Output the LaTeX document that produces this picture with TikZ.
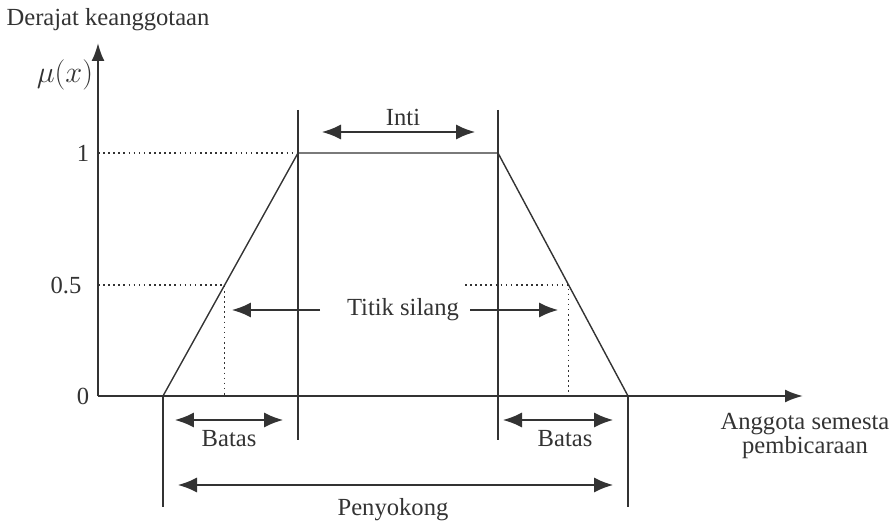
\documentclass[tikz,border=0pt]{standalone}
\usepackage{fontspec}
\setmainfont{Liberation Serif}
\usetikzlibrary{arrows.meta}

\begin{document}
\begin{tikzpicture}[font=\fontsize{14}{12}\selectfont, line width=0.8pt, black!80,
		both/.style={{Latex[length=3.8mm,width=3mm]}-{Latex[length=3.8mm,width=3mm]}},
		one/.style={-{Latex[length=3.8mm,width=3mm]}},
		guide/.style={dotted, line width=0.9pt}]
		\useasboundingbox (-1.96,-2.58) rectangle (15.84,7.92);
		% axes
		\coordinate (o) at (0,0);
		\coordinate (xend) at (14.1,0);
		\coordinate (yend) at (0,7.06);
		\draw[line width=1.2pt,-{Latex[length=3.6mm,width=2.6mm]}] (o) -- (xend);
		\draw[line width=1.2pt,-{Latex[length=3.6mm,width=2.6mm]}] (o) -- (yend);
		% trapezoid
		\coordinate (a) at (1.3,0);
		\coordinate (b) at (4,4.86);
		\coordinate (c) at (8,4.86);
		\coordinate (d) at (10.6,0);
		\coordinate (p) at (2.53,2.22);
		\coordinate (q) at (9.41,2.22);
		\draw (a) -- (b) -- (c) -- (d);
		\draw[guide] (0,4.86) -- (b);
		\draw[guide] (0,2.22) -- (p) -- (2.53,0);
		\draw[guide] (7.34,2.22) -- (q) -- (9.41,0);
		\draw (4,5.72) -- (4,-0.88);
		\draw (8,5.72) -- (8,-0.88);
		\draw (a) -- (1.3,-2.22);
		\draw (d) -- (10.6,-2.22);
		% arrows
		\draw[both] (4.48,5.28) -- (7.54,5.28);
		\draw[one] (4.44,1.72) -- (2.68,1.72);
		\draw[one] (7.44,1.72) -- (9.2,1.72);
		\draw[both] (1.54,-0.48) -- (3.7,-0.48);
		\draw[both] (8.1,-0.48) -- (10.3,-0.48);
		\draw[both] (1.6,-1.78) -- (10.3,-1.78);
		% labels
		\node (inti) at (6.1,5.58) {Inti};
		\node (silang) at (6.1,1.72) {Titik silang};
		\node (batasa) at (2.62,-0.86) {Batas};
		\node (batasb) at (9.34,-0.86) {Batas};
		\node (penyokong) at (5.9,-2.28) {Penyokong};
		\node[align=center] (semesta) at (14.14,-0.8) {Anggota semesta\\pembicaraan};
		\node (derajat) at (0.2,7.52) {Derajat keanggotaan};
		\node (mu) at (-0.66,6.42) {\fontsize{17}{17}\selectfont$\mu(x)$};
		\node (satu) at (-0.3,4.86) {1};
		\node (setengah) at (-0.64,2.22) {0.5};
		\node (nol) at (-0.3,0) {0};
	\end{tikzpicture}
\end{document}
